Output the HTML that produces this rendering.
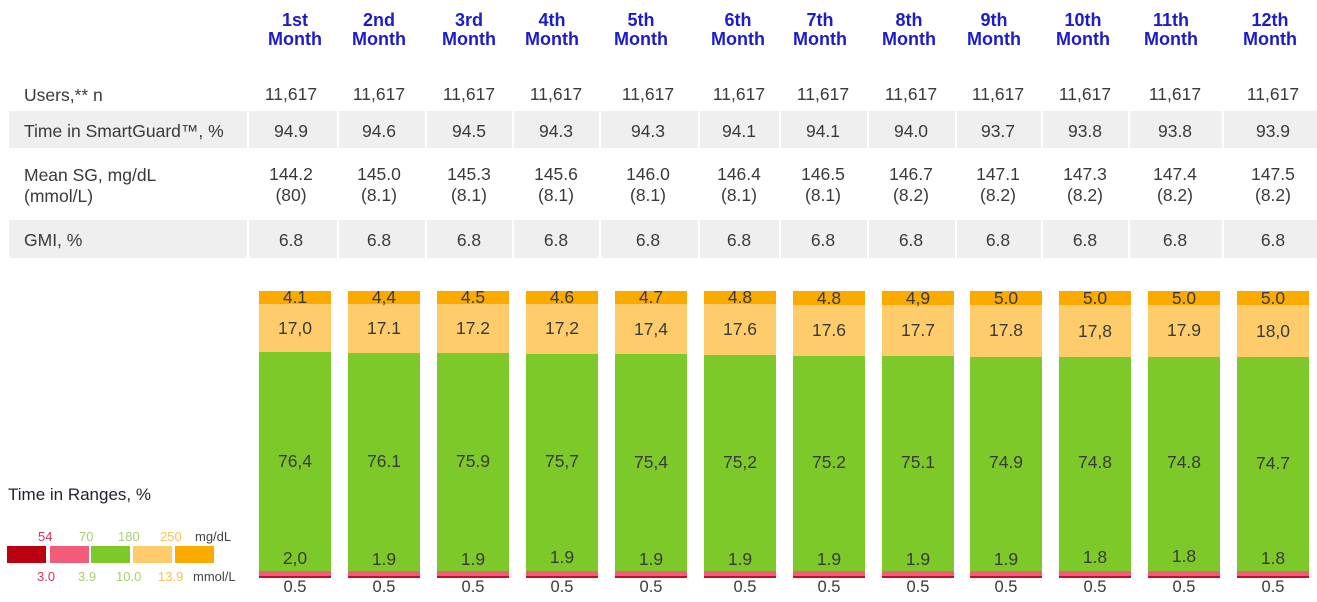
<!DOCTYPE html>
<html><head><meta charset="utf-8"><style>
body{margin:0;width:1317px;height:602px;background:#fff;position:relative;overflow:hidden;font-family:"Liberation Sans",sans-serif;color:#3a3a3a}
div{position:absolute}
.h{color:#1c1cc8;font-weight:bold;font-size:18px;line-height:19px;text-align:center;width:90px;margin-left:-45px;top:11px}
.t{font-size:17.5px;text-align:center;width:90px;margin-left:-45px;line-height:21px}
.l{font-size:17.5px;left:24px;line-height:21px}
.band{left:9px;width:1308px;background:#efefef}
.sep{width:2px;background:#fff}
.b{width:72px;top:291px;height:287px}
.s{position:absolute;left:0;width:72px}
.bl{font-size:17.5px;text-align:center;width:72px;position:absolute;left:0;color:#3a3a3a}
.u{font-size:16.5px;text-align:center;width:72px;top:578px}
</style></head><body>
<div class="band" style="top:111px;height:37px"></div>
<div class="band" style="top:220px;height:38px"></div>
<div class="sep" style="left:247px;top:111px;height:37px"></div><div class="sep" style="left:247px;top:220px;height:38px"></div>
<div class="sep" style="left:337px;top:111px;height:37px"></div><div class="sep" style="left:337px;top:220px;height:38px"></div>
<div class="sep" style="left:425px;top:111px;height:37px"></div><div class="sep" style="left:425px;top:220px;height:38px"></div>
<div class="sep" style="left:512px;top:111px;height:37px"></div><div class="sep" style="left:512px;top:220px;height:38px"></div>
<div class="sep" style="left:599px;top:111px;height:37px"></div><div class="sep" style="left:599px;top:220px;height:38px"></div>
<div class="sep" style="left:698px;top:111px;height:37px"></div><div class="sep" style="left:698px;top:220px;height:38px"></div>
<div class="sep" style="left:779px;top:111px;height:37px"></div><div class="sep" style="left:779px;top:220px;height:38px"></div>
<div class="sep" style="left:867px;top:111px;height:37px"></div><div class="sep" style="left:867px;top:220px;height:38px"></div>
<div class="sep" style="left:955px;top:111px;height:37px"></div><div class="sep" style="left:955px;top:220px;height:38px"></div>
<div class="sep" style="left:1041px;top:111px;height:37px"></div><div class="sep" style="left:1041px;top:220px;height:38px"></div>
<div class="sep" style="left:1128px;top:111px;height:37px"></div><div class="sep" style="left:1128px;top:220px;height:38px"></div>
<div class="sep" style="left:1222px;top:111px;height:37px"></div><div class="sep" style="left:1222px;top:220px;height:38px"></div>

<div class="h" style="left:295px">1st<br>Month</div>
<div class="h" style="left:379px">2nd<br>Month</div>
<div class="h" style="left:469px">3rd<br>Month</div>
<div class="h" style="left:552px">4th<br>Month</div>
<div class="h" style="left:641px">5th<br>Month</div>
<div class="h" style="left:738px">6th<br>Month</div>
<div class="h" style="left:820px">7th<br>Month</div>
<div class="h" style="left:909px">8th<br>Month</div>
<div class="h" style="left:994px">9th<br>Month</div>
<div class="h" style="left:1083px">10th<br>Month</div>
<div class="h" style="left:1171px">11th<br>Month</div>
<div class="h" style="left:1270px">12th<br>Month</div>

<div class="l" style="top:85px">Users,** n</div>
<div class="l" style="top:121px">Time in SmartGuard™, %</div>
<div class="l" style="top:165px">Mean SG, mg/dL<br>(mmol/L)</div>
<div class="l" style="top:230px">GMI, %</div>

<div class="t" style="left:291px;top:84px">11,617</div><div class="t" style="left:291px;top:121px">94.9</div><div class="t" style="left:291px;top:164px">144.2<br>(80)</div><div class="t" style="left:291px;top:230px">6.8</div>
<div class="t" style="left:379px;top:84px">11,617</div><div class="t" style="left:379px;top:121px">94.6</div><div class="t" style="left:379px;top:164px">145.0<br>(8.1)</div><div class="t" style="left:379px;top:230px">6.8</div>
<div class="t" style="left:469px;top:84px">11,617</div><div class="t" style="left:469px;top:121px">94.5</div><div class="t" style="left:469px;top:164px">145.3<br>(8.1)</div><div class="t" style="left:469px;top:230px">6.8</div>
<div class="t" style="left:556px;top:84px">11,617</div><div class="t" style="left:556px;top:121px">94.3</div><div class="t" style="left:556px;top:164px">145.6<br>(8.1)</div><div class="t" style="left:556px;top:230px">6.8</div>
<div class="t" style="left:648px;top:84px">11,617</div><div class="t" style="left:648px;top:121px">94.3</div><div class="t" style="left:648px;top:164px">146.0<br>(8.1)</div><div class="t" style="left:648px;top:230px">6.8</div>
<div class="t" style="left:739px;top:84px">11,617</div><div class="t" style="left:739px;top:121px">94.1</div><div class="t" style="left:739px;top:164px">146.4<br>(8.1)</div><div class="t" style="left:739px;top:230px">6.8</div>
<div class="t" style="left:823px;top:84px">11,617</div><div class="t" style="left:823px;top:121px">94.1</div><div class="t" style="left:823px;top:164px">146.5<br>(8.1)</div><div class="t" style="left:823px;top:230px">6.8</div>
<div class="t" style="left:911px;top:84px">11,617</div><div class="t" style="left:911px;top:121px">94.0</div><div class="t" style="left:911px;top:164px">146.7<br>(8.2)</div><div class="t" style="left:911px;top:230px">6.8</div>
<div class="t" style="left:998px;top:84px">11,617</div><div class="t" style="left:998px;top:121px">93.7</div><div class="t" style="left:998px;top:164px">147.1<br>(8.2)</div><div class="t" style="left:998px;top:230px">6.8</div>
<div class="t" style="left:1085px;top:84px">11,617</div><div class="t" style="left:1085px;top:121px">93.8</div><div class="t" style="left:1085px;top:164px">147.3<br>(8.2)</div><div class="t" style="left:1085px;top:230px">6.8</div>
<div class="t" style="left:1175px;top:84px">11,617</div><div class="t" style="left:1175px;top:121px">93.8</div><div class="t" style="left:1175px;top:164px">147.4<br>(8.2)</div><div class="t" style="left:1175px;top:230px">6.8</div>
<div class="t" style="left:1273px;top:84px">11,617</div><div class="t" style="left:1273px;top:121px">93.9</div><div class="t" style="left:1273px;top:164px">147.5<br>(8.2)</div><div class="t" style="left:1273px;top:230px">6.8</div>

<div class="b" style="left:259px"><div class="s" style="top:0;height:13px;background:#fbaa00"></div><div class="s" style="top:13px;height:48px;background:#fecc6a"></div><div class="s" style="top:61px;height:219px;background:#7dc92a"></div><div class="s" style="top:280px;height:5px;background:#f45b77"></div><div class="s" style="top:285px;height:2px;background:#c0102a"></div><div class="bl" style="top:-4px">4.1</div><div class="bl" style="top:27px">17,0</div><div class="bl" style="top:160px">76,4</div><div class="bl" style="top:257px">2,0</div></div>
<div class="b" style="left:348px"><div class="s" style="top:0;height:13px;background:#fbaa00"></div><div class="s" style="top:13px;height:49px;background:#fecc6a"></div><div class="s" style="top:62px;height:218px;background:#7dc92a"></div><div class="s" style="top:280px;height:5px;background:#f45b77"></div><div class="s" style="top:285px;height:2px;background:#c0102a"></div><div class="bl" style="top:-4px">4,4</div><div class="bl" style="top:27px">17.1</div><div class="bl" style="top:160px">76.1</div><div class="bl" style="top:258px">1.9</div></div>
<div class="b" style="left:437px"><div class="s" style="top:0;height:13px;background:#fbaa00"></div><div class="s" style="top:13px;height:49px;background:#fecc6a"></div><div class="s" style="top:62px;height:218px;background:#7dc92a"></div><div class="s" style="top:280px;height:5px;background:#f45b77"></div><div class="s" style="top:285px;height:2px;background:#c0102a"></div><div class="bl" style="top:-4px">4.5</div><div class="bl" style="top:27px">17.2</div><div class="bl" style="top:160px">75.9</div><div class="bl" style="top:258px">1.9</div></div>
<div class="b" style="left:526px"><div class="s" style="top:0;height:13px;background:#fbaa00"></div><div class="s" style="top:13px;height:50px;background:#fecc6a"></div><div class="s" style="top:63px;height:217px;background:#7dc92a"></div><div class="s" style="top:280px;height:5px;background:#f45b77"></div><div class="s" style="top:285px;height:2px;background:#c0102a"></div><div class="bl" style="top:-4px">4.6</div><div class="bl" style="top:27px">17,2</div><div class="bl" style="top:160px">75,7</div><div class="bl" style="top:256px">1.9</div></div>
<div class="b" style="left:615px"><div class="s" style="top:0;height:13px;background:#fbaa00"></div><div class="s" style="top:13px;height:50px;background:#fecc6a"></div><div class="s" style="top:63px;height:217px;background:#7dc92a"></div><div class="s" style="top:280px;height:5px;background:#f45b77"></div><div class="s" style="top:285px;height:2px;background:#c0102a"></div><div class="bl" style="top:-4px">4.7</div><div class="bl" style="top:28px">17,4</div><div class="bl" style="top:161px">75,4</div><div class="bl" style="top:258px">1.9</div></div>
<div class="b" style="left:704px"><div class="s" style="top:0;height:13px;background:#fbaa00"></div><div class="s" style="top:13px;height:51px;background:#fecc6a"></div><div class="s" style="top:64px;height:216px;background:#7dc92a"></div><div class="s" style="top:280px;height:5px;background:#f45b77"></div><div class="s" style="top:285px;height:2px;background:#c0102a"></div><div class="bl" style="top:-4px">4.8</div><div class="bl" style="top:28px">17.6</div><div class="bl" style="top:161px">75,2</div><div class="bl" style="top:258px">1.9</div></div>
<div class="b" style="left:793px"><div class="s" style="top:0;height:14px;background:#fbaa00"></div><div class="s" style="top:14px;height:51px;background:#fecc6a"></div><div class="s" style="top:65px;height:215px;background:#7dc92a"></div><div class="s" style="top:280px;height:5px;background:#f45b77"></div><div class="s" style="top:285px;height:2px;background:#c0102a"></div><div class="bl" style="top:-3px">4.8</div><div class="bl" style="top:29px">17.6</div><div class="bl" style="top:161px">75.2</div><div class="bl" style="top:258px">1.9</div></div>
<div class="b" style="left:882px"><div class="s" style="top:0;height:14px;background:#fbaa00"></div><div class="s" style="top:14px;height:51px;background:#fecc6a"></div><div class="s" style="top:65px;height:215px;background:#7dc92a"></div><div class="s" style="top:280px;height:5px;background:#f45b77"></div><div class="s" style="top:285px;height:2px;background:#c0102a"></div><div class="bl" style="top:-3px">4,9</div><div class="bl" style="top:29px">17.7</div><div class="bl" style="top:161px">75.1</div><div class="bl" style="top:258px">1.9</div></div>
<div class="b" style="left:970px"><div class="s" style="top:0;height:14px;background:#fbaa00"></div><div class="s" style="top:14px;height:52px;background:#fecc6a"></div><div class="s" style="top:66px;height:214px;background:#7dc92a"></div><div class="s" style="top:280px;height:5px;background:#f45b77"></div><div class="s" style="top:285px;height:2px;background:#c0102a"></div><div class="bl" style="top:-3px">5.0</div><div class="bl" style="top:29px">17.8</div><div class="bl" style="top:161px">74.9</div><div class="bl" style="top:258px">1.9</div></div>
<div class="b" style="left:1059px"><div class="s" style="top:0;height:14px;background:#fbaa00"></div><div class="s" style="top:14px;height:52px;background:#fecc6a"></div><div class="s" style="top:66px;height:214px;background:#7dc92a"></div><div class="s" style="top:280px;height:5px;background:#f45b77"></div><div class="s" style="top:285px;height:2px;background:#c0102a"></div><div class="bl" style="top:-3px">5.0</div><div class="bl" style="top:30px">17,8</div><div class="bl" style="top:161px">74.8</div><div class="bl" style="top:256px">1.8</div></div>
<div class="b" style="left:1148px"><div class="s" style="top:0;height:14px;background:#fbaa00"></div><div class="s" style="top:14px;height:52px;background:#fecc6a"></div><div class="s" style="top:66px;height:214px;background:#7dc92a"></div><div class="s" style="top:280px;height:5px;background:#f45b77"></div><div class="s" style="top:285px;height:2px;background:#c0102a"></div><div class="bl" style="top:-3px">5.0</div><div class="bl" style="top:29px">17.9</div><div class="bl" style="top:161px">74.8</div><div class="bl" style="top:255px">1.8</div></div>
<div class="b" style="left:1237px"><div class="s" style="top:0;height:14px;background:#fbaa00"></div><div class="s" style="top:14px;height:52px;background:#fecc6a"></div><div class="s" style="top:66px;height:214px;background:#7dc92a"></div><div class="s" style="top:280px;height:5px;background:#f45b77"></div><div class="s" style="top:285px;height:2px;background:#c0102a"></div><div class="bl" style="top:-3px">5.0</div><div class="bl" style="top:30px">18,0</div><div class="bl" style="top:162px">74.7</div><div class="bl" style="top:257px">1.8</div></div>

<div class="u" style="left:259px">0.5</div><div class="u" style="left:348px">0.5</div><div class="u" style="left:437px">0.5</div><div class="u" style="left:526px">0.5</div><div class="u" style="left:615px">0.5</div><div class="u" style="left:709px">0.5</div><div class="u" style="left:793px">0.5</div><div class="u" style="left:882px">0.5</div><div class="u" style="left:970px">0.5</div><div class="u" style="left:1059px">0.5</div><div class="u" style="left:1148px">0.5</div><div class="u" style="left:1237px">0.5</div>

<div style="left:8px;top:485px;font-size:17px;color:#223">Time in Ranges, %</div>
<div style="left:7px;top:546px;width:39px;height:17px;background:#bb0010"></div>
<div style="left:50px;top:546px;width:39px;height:17px;background:#f45b77"></div>
<div style="left:91px;top:546px;width:39px;height:17px;background:#7dc92a"></div>
<div style="left:133px;top:546px;width:39px;height:17px;background:#fecc6a"></div>
<div style="left:175px;top:546px;width:39px;height:17px;background:#fbaa00"></div>
<div style="left:38px;top:529px;font-size:13px;color:#d8315a">54</div>
<div style="left:79px;top:529px;font-size:13px;color:#a8cf70">70</div>
<div style="left:118px;top:529px;font-size:13px;color:#a8cf70">180</div>
<div style="left:160px;top:529px;font-size:13px;color:#f5c15a">250</div>
<div style="left:195px;top:529px;font-size:13px;color:#444">mg/dL</div>
<div style="left:37px;top:569px;font-size:13px;color:#d8315a">3.0</div>
<div style="left:78px;top:569px;font-size:13px;color:#a8cf70">3.9</div>
<div style="left:116px;top:569px;font-size:13px;color:#a8cf70">10.0</div>
<div style="left:158px;top:569px;font-size:13px;color:#f5c15a">13.9</div>
<div style="left:193px;top:569px;font-size:13px;color:#444">mmol/L</div>
</body></html>
